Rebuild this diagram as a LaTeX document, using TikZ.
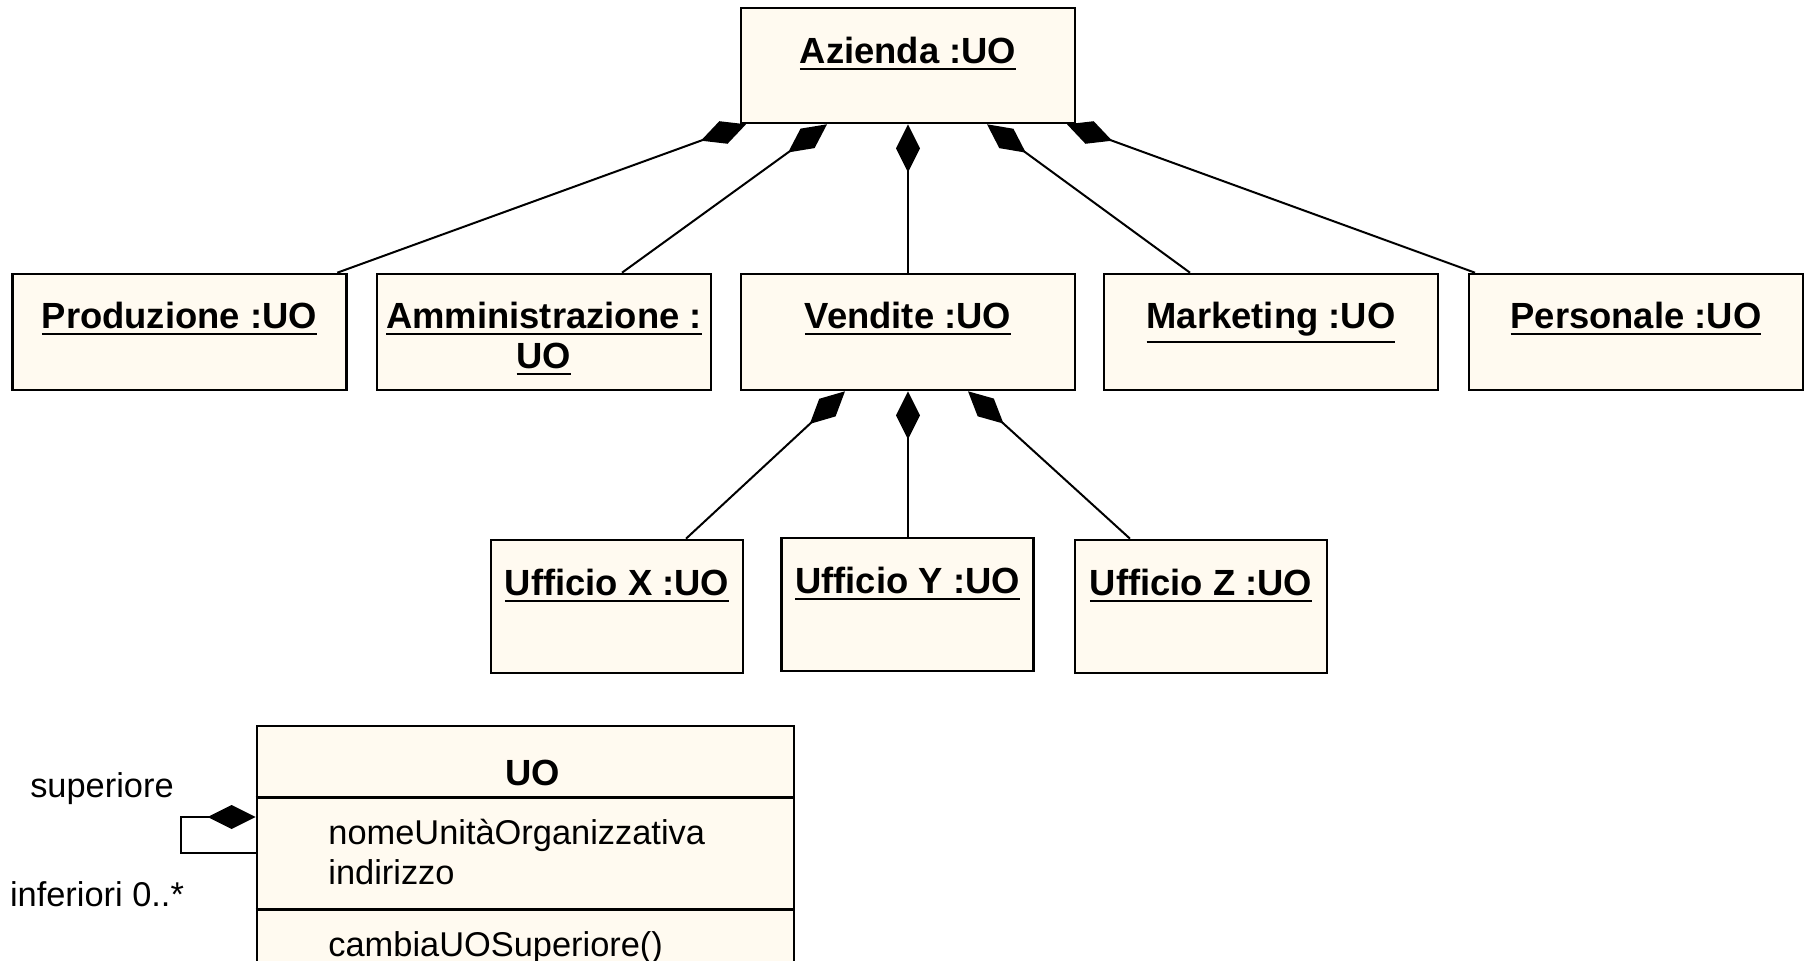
\documentclass[tikz,border=0pt]{standalone}
\usepackage{fontspec}
\setmainfont{Liberation Sans}
\usetikzlibrary{arrows.meta,positioning,calc}
\definecolor{uoFill}{RGB}{255,250,240}
\newcommand{\objsize}{\fontsize{18.2}{20}\selectfont}
\newcommand{\membsize}{\fontsize{17.2}{19.5}\selectfont}
\newcommand{\objul}[1]{\vtop{\hbox{#1}\kern2.2pt\hrule height 1pt}}

\begin{document}
\begin{tikzpicture}[x=0.5pt,y=-0.5pt,
    obj/.style={draw=black,fill=uoFill,line width=1.3pt,
                minimum width=167pt,minimum height=58pt,inner sep=0pt},
    office/.style={obj,minimum width=126pt,minimum height=66.5pt},
    objname/.style={font=\bfseries\objsize,anchor=base},
    member/.style={font=\membsize,anchor=base west,inner sep=0pt},
    compo/.style={{Diamond[length=24pt,width=12pt]}-,line width=1pt}]

    \useasboundingbox (0,0) rectangle (1804,961);
    \clip (0,0) rectangle (1804,961);

    % -- oggetti ---------------------------------------------
    \node[obj,minimum height=57.5pt] (azienda) at (908,65.5){};
    \node[objname] at ($(azienda.north)+(0,57)$){\objul{Azienda :UO}};

    \node[obj] (prod) at (179.3,332){};
    \node[objname] at ($(prod.north)+(0,56)$){\objul{Produzione :UO}};
    \node[obj] (amm) at (544,332){};
    \node[objname] at ($(amm.north)+(0,56)$){\objul{Amministrazione :}};
    \node[objname] at ($(amm.north)+(0,96)$){\objul{UO}};
    \node[obj] (vend) at (908,332){};
    \node[objname] at ($(vend.north)+(0,56)$){\objul{Vendite :UO}};
    \node[obj] (mkt) at (1271,332){};
    \node[objname] at ($(mkt.north)+(0,56)$){\objul{Marketing :UO}};
    \node[obj] (pers) at (1636,332){};
    \node[objname] at ($(pers.north)+(0,56)$){\objul{Personale :UO}};

    \node[office] (uffX) at (617,606.5){};
    \node[objname] at ($(uffX.north)+(0,57)$){\objul{Ufficio X :UO}};
    \node[office] (uffY) at (907.5,604.5){};
    \node[objname] at ($(uffY.north)+(0,57)$){\objul{Ufficio Y :UO}};
    \node[office] (uffZ) at (1201,606.5){};
    \node[objname] at ($(uffZ.north)+(0,57)$){\objul{Ufficio Z :UO}};

    % composizioni
    \foreach \child/\dx/\cx in {prod/-162/158,amm/-81/78,mkt/79/-81,pers/159/-161}{
      \draw[compo] ($(azienda.south)+(\dx,0)$) -- ($(\child.north)+(\cx,0)$);}
    \draw[compo] (azienda.south) -- (vend.north);
    \foreach \child/\dx/\cx in {uffX/-63/69,uffZ/60/-71}{
      \draw[compo] ($(vend.south)+(\dx,0)$) -- ($(\child.north)+(\cx,0)$);}
    \draw[compo] (vend.south) -- (vend.south |- uffY.north);

    % -- classe UO -------------------------------------------
    \node[obj,minimum width=268.5pt,minimum height=150pt] (uo) at (525.5,876){};
    \draw[line width=1.3pt] ($(uo.north west)+(0,73)$) -- ($(uo.north east)+(0,73)$);
    \draw[line width=1.3pt] ($(uo.north west)+(0,185)$) -- ($(uo.north east)+(0,185)$);
    \node[objname] (uoname) at (533,785){UO};
    \node[member] (attrNome) at (328,844){nomeUnitàOrganizzativa};
    \node[member] (attrInd) at (328,884){indirizzo};
    \node[member] (opCambia) at (328,956){cambiaUOSuperiore()};

    % associazione riflessiva
    \coordinate (loopTop) at (181,817);
    \coordinate (loopBot) at (181,853);
    \draw[compo] (loopTop -| uo.west) -- (loopTop) -- (loopBot)
      -- (loopBot -| uo.west);
    \node[font=\membsize,anchor=base] (supLbl) at (102,798){superiore};
    \node[font=\membsize,anchor=base] (infLbl) at (97,906){inferiori 0..*};

\end{tikzpicture}
\end{document}
